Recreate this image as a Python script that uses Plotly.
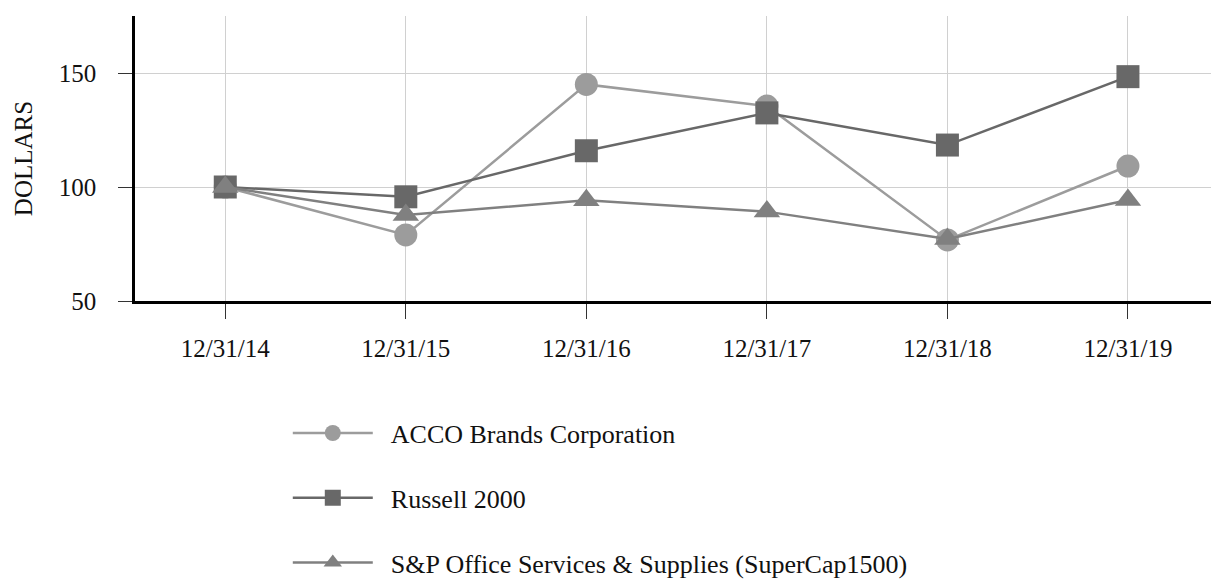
import plotly.graph_objects as go

dates = ["12/31/14", "12/31/15", "12/31/16", "12/31/17", "12/31/18", "12/31/19"]
acco = [100, 79.0, 145.0, 135.5, 76.8, 109.2]
russell = [100, 95.7, 115.9, 132.5, 118.4, 148.4]
sp_office = [100, 87.7, 94.2, 89.2, 77.2, 94.3]

xs = list(range(len(dates)))
FONT = "Liberation Serif"
PAD = "\u00a0\u00a0"

fig = go.Figure()
series = [
    ("ACCO Brands Corporation", acco, "#9c9c9c", "circle"),
    ("Russell 2000", russell, "#686868", "square"),
    ("S&P Office Services & Supplies (SuperCap1500)", sp_office, "#808080", "triangle-up"),
]
for i, (name, vals, col, sym) in enumerate(series):
    fig.add_trace(go.Scatter(
        x=xs, y=vals, name=PAD + name, mode="lines+markers",
        line=dict(color=col, width=2.5),
        marker=dict(color=col, symbol=sym, size=23),
        legendgroup=f"g{i}",
    ))

fig.update_layout(
    width=1211, height=581,
    margin=dict(l=135, r=0, t=16, b=280),
    paper_bgcolor="white", plot_bgcolor="white",
    font=dict(family=FONT, size=25, color="#111111"),
    showlegend=True,
    legend=dict(
        orientation="v", x=0.142, xanchor="left",
        yref="container", y=0.295, yanchor="top",
        font=dict(family=FONT, size=26, color="#111111"),
        tracegroupgap=28, itemwidth=80,
    ),
    xaxis=dict(
        range=[-0.5, 5.46], tickvals=xs, ticktext=dates,
        showgrid=True, gridcolor="#d0d0d0", gridwidth=1,
        showline=True, linecolor="black", linewidth=2.5,
        ticks="outside", ticklen=15, tickcolor="#333333",
        zeroline=False, tickfont=dict(size=25),
        ticklabelstandoff=8,
    ),
    yaxis=dict(
        range=[50, 175], tickvals=[50, 100, 150],
        showgrid=True, gridcolor="#d0d0d0", gridwidth=1,
        showline=True, linecolor="black", linewidth=2.5,
        ticks="outside", ticklen=14, tickcolor="#333333",
        zeroline=False, tickfont=dict(size=25),
        ticklabelstandoff=17,
        title=dict(text="DOLLARS", font=dict(size=25), standoff=20),
    ),
)

fig.write_html("out.html")
